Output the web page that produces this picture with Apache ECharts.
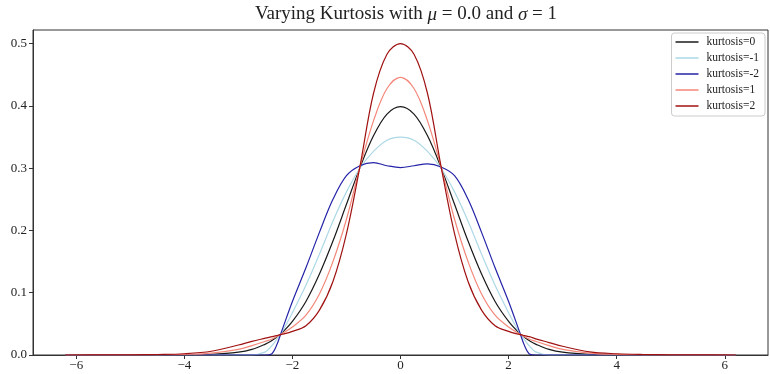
<!DOCTYPE html>
<html>
<head>
<meta charset="utf-8">
<script src="https://cdn.jsdelivr.net/npm/echarts@6/dist/echarts.min.js"></script>
<style>
  html, body { margin: 0; padding: 0; background: #fff; }
  #chart { width: 770px; height: 374px; }
</style>
</head>
<body>
<div id="chart"></div>
<script>
const xs = [-6.2, -5.5, -5, -4.5, -4, -3.5, -3, -2.75, -2.5, -2.4, -2.3, -2.2, -2, -1.75, -1.5, -1.25, -1, -0.75, -0.5, -0.25,
  0, 0.25, 0.5, 0.75, 1, 1.25, 1.5, 1.75, 2, 2.2, 2.3, 2.4, 2.5, 2.75, 3, 3.5, 4, 4.5, 5, 5.5, 6.2];

const kurt0 = [0, 0, 0, 0, 0.0002, 0.001, 0.0045, 0.009, 0.0175, 0.022, 0.028, 0.035, 0.054, 0.086, 0.130, 0.183, 0.242, 0.301, 0.352, 0.387,
  0.399, 0.387, 0.352, 0.301, 0.242, 0.183, 0.130, 0.086, 0.054, 0.035, 0.028, 0.022, 0.0175, 0.009, 0.0045, 0.001, 0.0002, 0, 0, 0, 0];
const kurtM1 = [0, 0, 0, 0, 0, 0, 0, 0, 0.005, 0.013, 0.024, 0.036, 0.068, 0.112, 0.162, 0.215, 0.262, 0.300, 0.327, 0.345,
  0.350, 0.345, 0.327, 0.300, 0.262, 0.215, 0.162, 0.112, 0.068, 0.036, 0.024, 0.013, 0.005, 0, 0, 0, 0, 0, 0, 0, 0];
const kurtM2 = [0, 0, 0, 0, 0, 0, 0, 0, 0, 0.001, 0.014, 0.038, 0.086, 0.140, 0.197, 0.250, 0.288, 0.304, 0.309, 0.304,
  0.301, 0.304, 0.307, 0.302, 0.288, 0.250, 0.197, 0.140, 0.086, 0.038, 0.014, 0.001, 0, 0, 0, 0, 0, 0, 0, 0, 0];
const kurt1 = [0, 0, 0, 0.0003, 0.001, 0.003, 0.009, 0.015, 0.022, 0.025, 0.029, 0.034, 0.045, 0.064, 0.098, 0.150, 0.218, 0.302, 0.376, 0.428,
  0.446, 0.428, 0.376, 0.302, 0.218, 0.150, 0.098, 0.064, 0.045, 0.034, 0.029, 0.025, 0.022, 0.015, 0.009, 0.003, 0.001, 0.0003, 0, 0, 0];
const kurt2 = [0, 0.0001, 0.0003, 0.0008, 0.002, 0.006, 0.016, 0.022, 0.027, 0.029, 0.031, 0.033, 0.038, 0.047, 0.072, 0.118, 0.195, 0.303, 0.420, 0.483,
  0.500, 0.483, 0.420, 0.303, 0.195, 0.118, 0.072, 0.047, 0.038, 0.033, 0.031, 0.029, 0.026, 0.020, 0.014, 0.005, 0.002, 0.0008, 0.0003, 0.0001, 0];

const xTicks = [-6, -4, -2, 0, 2, 4, 6];
const yTicks = [0, 0.1, 0.2, 0.3, 0.4, 0.5];

const serif = '"Liberation Serif", "DejaVu Serif", serif';

function pairs(ys) {
  return xs.map((x, i) => [x, ys[i]]);
}

function line(name, ys, color) {
  return {
    name: name,
    type: 'line',
    data: pairs(ys),
    symbol: 'none',
    smooth: 0.35,
    lineStyle: { color: color, width: 1.2 },
    itemStyle: { color: color }
  };
}

const option = {
  animation: false,
  backgroundColor: '#fff',
  title: {
    text: 'Varying Kurtosis with {i|μ} = 0.0 and {i|σ} = 1',
    left: 401,
    textAlign: 'center',
    top: 0,
    textStyle: {
      fontFamily: serif,
      fontSize: 19,
      fontWeight: 'normal',
      color: '#222',
      rich: {
        i: { fontFamily: serif, fontSize: 19, fontStyle: 'italic', color: '#222' }
      }
    }
  },
  legend: {
    orient: 'vertical',
    right: 5,
    top: 33,
    padding: [2, 6, 3, 4],
    itemGap: 2,
    icon: 'rect',
    itemWidth: 23,
    itemHeight: 1.5,
    borderColor: '#ccc',
    borderWidth: 1,
    borderRadius: 3,
    backgroundColor: '#fff',
    textStyle: { fontFamily: serif, fontSize: 11.5, lineHeight: 14, color: '#222', padding: [0, 0, 0, 3] },
    data: ['kurtosis=0', 'kurtosis=-1', 'kurtosis=-2', 'kurtosis=1', 'kurtosis=2']
  },
  grid: {
    left: 33,
    right: 2,
    top: 30,
    bottom: 19,
    show: true,
    borderColor: '#333',
    borderWidth: 1
  },
  xAxis: {
    type: 'value',
    min: -6.8,
    max: 6.8,
    splitLine: { show: false },
    axisLine: { onZero: false, lineStyle: { color: '#333' } },
    axisTick: { customValues: xTicks, length: 4, lineStyle: { color: '#333' } },
    axisLabel: {
      customValues: xTicks,
      fontFamily: serif,
      fontSize: 13,
      color: '#222',
      margin: 4,
      formatter: v => (v < 0 ? '\u2212' + Math.abs(v) : String(v))
    }
  },
  yAxis: {
    type: 'value',
    min: 0,
    max: 0.522,
    splitLine: { show: false },
    axisLine: { show: true, onZero: false, lineStyle: { color: '#333' } },
    axisTick: { show: true, customValues: yTicks, length: 4, lineStyle: { color: '#333' } },
    axisLabel: {
      customValues: yTicks,
      fontFamily: serif,
      fontSize: 13,
      color: '#222',
      margin: 6,
      formatter: v => v.toFixed(1)
    }
  },
  series: [
    line('kurtosis=0', kurt0, '#1a1a1a'),
    line('kurtosis=-1', kurtM1, '#add8e6'),
    line('kurtosis=-2', kurtM2, '#2424a8'),
    line('kurtosis=1', kurt1, '#f4877a'),
    line('kurtosis=2', kurt2, '#a01212')
  ]
};

const myChart = echarts.init(document.getElementById('chart'));
myChart.setOption(option);
</script>
</body>
</html>
